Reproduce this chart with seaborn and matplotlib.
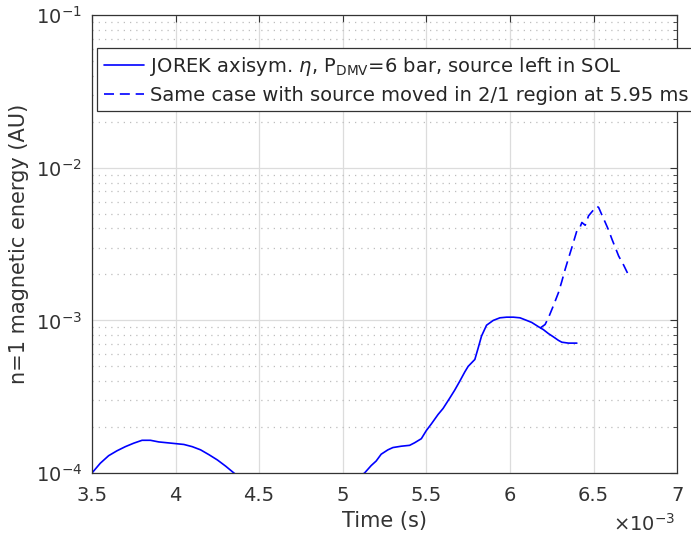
import numpy as np
import pandas as pd
import matplotlib
matplotlib.use('Agg')
import matplotlib.pyplot as plt
import seaborn as sns
from matplotlib.ticker import LogLocator, NullFormatter

# Time in units of 1e-3 s (axis shows x10^-3 multiplier)
time_left = [3.48, 3.5, 3.55, 3.6, 3.65, 3.7, 3.75, 3.8, 3.85, 3.9, 3.95, 4.0, 4.05, 4.1,
             4.15, 4.2, 4.25, 4.3, 4.35, 4.37, 4.6, 4.9, 5.11, 5.13, 5.17, 5.2, 5.23,
             5.27, 5.3, 5.35, 5.4, 5.43, 5.47, 5.5, 5.53, 5.57, 5.6, 5.64, 5.67, 5.7,
             5.73, 5.75, 5.79, 5.81, 5.83, 5.86, 5.9, 5.94, 5.98, 6.02, 6.06, 6.1,
             6.13, 6.17, 6.2, 6.23, 6.26, 6.29, 6.31, 6.35, 6.4]
energy_left = [0.97e-4, 1.0e-4, 1.16e-4, 1.3e-4, 1.4e-4, 1.49e-4, 1.57e-4, 1.64e-4,
               1.64e-4, 1.6e-4, 1.58e-4, 1.56e-4, 1.54e-4, 1.49e-4, 1.42e-4, 1.32e-4,
               1.22e-4, 1.11e-4, 1.0e-4, 0.96e-4, 7e-5, 7e-5, 0.97e-4, 1.0e-4, 1.12e-4,
               1.2e-4, 1.33e-4, 1.42e-4, 1.47e-4, 1.5e-4, 1.52e-4, 1.58e-4, 1.68e-4,
               1.9e-4, 2.1e-4, 2.42e-4, 2.65e-4, 3.1e-4, 3.5e-4, 4.0e-4, 4.6e-4, 5.0e-4,
               5.55e-4, 6.6e-4, 7.9e-4, 9.3e-4, 1.0e-3, 1.04e-3, 1.05e-3, 1.05e-3,
               1.04e-3, 1.0e-3, 9.7e-4, 9.1e-4, 8.7e-4, 8.2e-4, 7.8e-4, 7.4e-4, 7.2e-4,
               7.1e-4, 7.1e-4]

time_moved = [6.18, 6.21, 6.23, 6.26, 6.29, 6.31, 6.33, 6.35, 6.37, 6.4, 6.42, 6.43, 6.45,
              6.47, 6.5, 6.52, 6.53, 6.55, 6.57, 6.59, 6.61, 6.63, 6.65, 6.68, 6.71]
energy_moved = [8.9e-4, 9.4e-4, 1.04e-3, 1.25e-3, 1.52e-3, 1.8e-3, 2.16e-3, 2.55e-3,
                3.0e-3, 3.86e-3, 4.1e-3, 4.38e-3, 4.2e-3, 4.84e-3, 5.3e-3, 5.58e-3,
                5.5e-3, 4.9e-3, 4.38e-3, 3.9e-3, 3.4e-3, 3.0e-3, 2.64e-3, 2.3e-3, 1.97e-3]

label_left = r'JOREK axisym. $\eta$, P$_{\mathrm{DMV}}$=6 bar, source left in SOL'
label_moved = 'Same case with source moved in 2/1 region at 5.95 ms'

df_left = pd.DataFrame({'time': time_left, 'energy': energy_left})
df_moved = pd.DataFrame({'time': time_moved, 'energy': energy_moved})

sns.set_style('white')
plt.rcParams['font.family'] = ['DejaVu Sans']
plt.rcParams['mathtext.fontset'] = 'dejavusans'

text_col = '#333333'
fig = plt.figure(figsize=(6.91, 5.37), dpi=100)
ax = fig.add_axes([0.133, 0.119, 0.847, 0.853])

sns.lineplot(data=df_left, x='time', y='energy', ax=ax, color='#0000ff', lw=1.2,
             sort=False, estimator=None, label=label_left)
sns.lineplot(data=df_moved, x='time', y='energy', ax=ax, color='#0000ff', lw=1.2,
             sort=False, estimator=None, label=label_moved)
ax.lines[1].set_dashes((6, 3.5))

ax.set_yscale('log')
ax.set_xlim(3.5, 7)
ax.set_ylim(1e-4, 1e-1)
ax.set_xticks(np.arange(3.5, 7.01, 0.5))
ax.set_xticklabels(['3.5', '4', '4.5', '5', '5.5', '6', '6.5', '7'])
ax.yaxis.set_major_locator(LogLocator(base=10, numticks=10))
ax.yaxis.set_minor_locator(LogLocator(base=10, subs=np.arange(2, 10), numticks=20))
ax.yaxis.set_minor_formatter(NullFormatter())

ax.grid(True, which='major', color='#dcdcdc', lw=0.9, ls='-')
ax.grid(True, which='minor', axis='y', color='#bdbdbd', lw=0.9, ls=(0, (1, 4)))
ax.set_axisbelow(True)

ax.tick_params(which='both', direction='in', top=True, right=True, labelsize=14,
               color=text_col, labelcolor=text_col)
ax.tick_params(which='major', length=5)
ax.tick_params(which='minor', length=3)
ax.tick_params(axis='x', pad=9)
ax.tick_params(axis='y', pad=7)
for s in ax.spines.values():
    s.set_color(text_col)
    s.set_linewidth(0.9)

ax.set_xlabel('Time (s)', fontsize=15, color=text_col)
ax.set_ylabel('n=1 magnetic energy (AU)', fontsize=15, color=text_col)
ax.xaxis.set_label_coords(0.5, -0.082)
ax.yaxis.set_label_coords(-0.108, 0.5)
ax.xaxis.label.set_va('top')
ax.text(0.997, -0.135, r'$\times10^{-3}$', transform=ax.transAxes, ha='right', va='bottom',
        fontsize=14, color=text_col)

leg = ax.legend(loc='upper left', bbox_to_anchor=(0.0085, 0.928), borderaxespad=0,
                fontsize=14, frameon=True, fancybox=False, framealpha=1,
                edgecolor=text_col, handlelength=2.05, borderpad=0.35,
                labelspacing=0.4, handletextpad=0.35)
leg.get_frame().set_linewidth(0.9)

fig.savefig('out.png', dpi=100)
